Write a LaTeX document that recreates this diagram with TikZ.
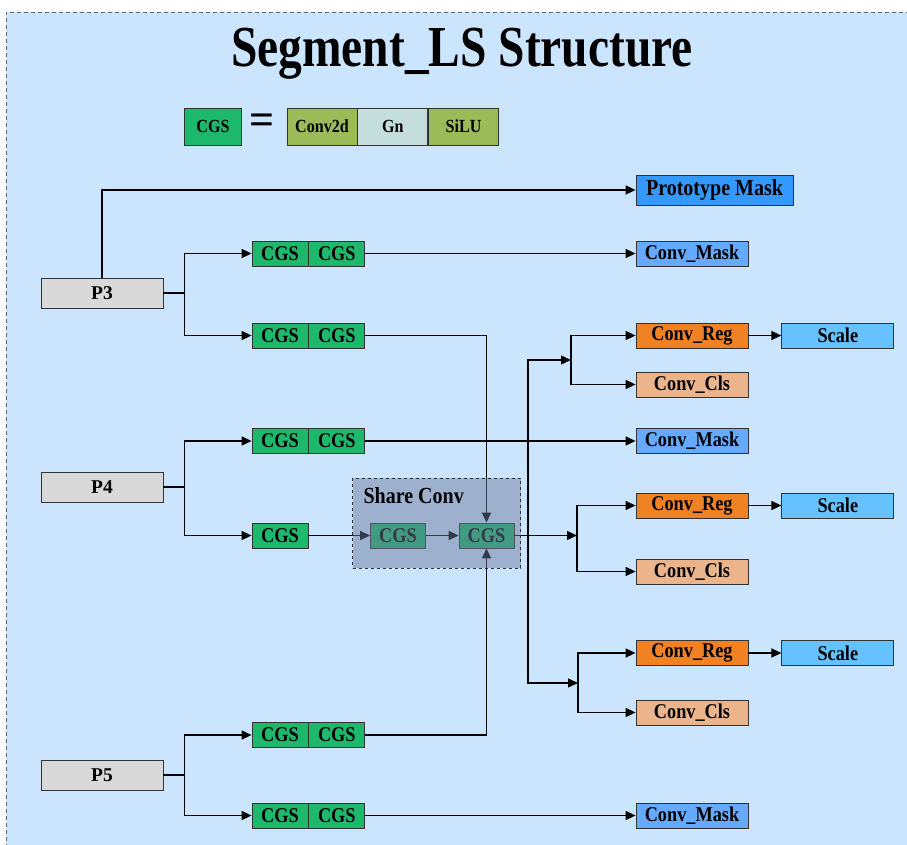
\documentclass[tikz,border=0pt]{standalone}
\usepackage{fontspec}
\setmainfont{Liberation Serif}[FakeStretch=0.87]
\newfontfamily\plainserif{Liberation Serif}
\usepackage{graphicx}
\usetikzlibrary{arrows.meta,positioning}

\definecolor{bgblue}{HTML}{CCE5FF}
\definecolor{cgsgreen}{HTML}{1DB86C}
\definecolor{olivegreen}{HTML}{9BBB59}
\definecolor{gnteal}{HTML}{C4DEDD}
\definecolor{protoblue}{HTML}{3399FF}
\definecolor{maskblue}{HTML}{66AAFF}
\definecolor{regorange}{HTML}{F08224}
\definecolor{clspeach}{HTML}{EBB48A}
\definecolor{scaleblue}{HTML}{66C2FF}
\definecolor{pgray}{HTML}{D9D9D9}
\definecolor{shareshade}{HTML}{6B7A9C}

\begin{document}
\begin{tikzpicture}[
    x=1pt, y=-1pt,
    box/.style={draw=black!80, line width=0.8pt, inner sep=0pt, minimum height=25pt, font=\bfseries\fontsize{21}{22}\selectfont},
    cgs/.style={box, fill=cgsgreen, minimum width=56pt},
    head/.style={box, minimum width=112pt},
    legend/.style={box, minimum width=70pt, minimum height=37pt, font=\bfseries\fontsize{18.5}{20}\selectfont},
    pin/.style={box, fill=pgray, minimum width=122pt, minimum height=30pt, font=\plainserif\bfseries\fontsize{19.5}{21}\selectfont},
    arrow/.style={-{Triangle[length=10pt,width=9pt]}, line width=1.4pt},
    wire/.style={line width=1.4pt}
]
    \useasboundingbox (0,0) rectangle (907,845);
    \fill[bgblue] (6,12) rectangle (915,855);
    \draw[black!60, line width=0.8pt, dash pattern=on 4pt off 3pt] (6,855) -- (6,12) -- (915,12);

    % Title and legend
    \node[anchor=base, font=\bfseries\fontsize{58}{60}\selectfont] (title) at (462,67) {\scalebox{0.94}[1]{Segment\_LS Structure}};
    \node[legend, fill=cgsgreen, minimum width=57pt] (lcgs) at (213,126.5) {CGS};
    \node[font=\plainserif\bfseries\fontsize{44}{44}\selectfont] (eq) at (262,124) {=};
    \node[legend, fill=olivegreen] (conv) at (322,126.5) {Conv2d};
    \node[legend, fill=gnteal, right=0pt of conv] (gn) {Gn};
    \node[legend, fill=olivegreen, right=0pt of gn] (silu) {SiLU};

    % Inputs
    \node[pin] (p3) at (102,293) {P3};
    \node[pin] (p4) at (102,487) {P4};
    \node[pin] (p5) at (102,775) {P5};

    % CGS blocks
    \node[cgs] (p3a1) at (280,253.5) {CGS};
    \node[cgs, right=0pt of p3a1] (p3a2) {CGS};
    \node[cgs] (p3b1) at (280,335.5) {CGS};
    \node[cgs, right=0pt of p3b1] (p3b2) {CGS};
    \node[cgs] (p4a1) at (280,441) {CGS};
    \node[cgs, right=0pt of p4a1] (p4a2) {CGS};
    \node[cgs] (p4b) at (280,535.5) {CGS};
    \node[cgs] (p5a1) at (280,735) {CGS};
    \node[cgs, right=0pt of p5a1] (p5a2) {CGS};
    \node[cgs] (p5b1) at (280,815.5) {CGS};
    \node[cgs, right=0pt of p5b1] (p5b2) {CGS};

    % Share conv
    \node[cgs, minimum width=55pt] (sh1) at (398,535.5) {CGS};
    \node[cgs, minimum width=55pt] (sh2) at (486.5,535.5) {CGS};

    % Heads
    \node[box, fill=protoblue, minimum width=157pt, minimum height=30pt, font=\bfseries\fontsize{23}{24}\selectfont] (proto) at (714.5,190) {Prototype Mask};
    \node[head, fill=maskblue] (mask1) at (692,253.5) {Conv\_Mask};
    \node[head, fill=regorange] (reg1) at (692,335.5) {Conv\_Reg};
    \node[head, fill=clspeach] (cls1) at (692,384.5) {Conv\_Cls};
    \node[head, fill=maskblue] (mask2) at (692,441) {Conv\_Mask};
    \node[head, fill=regorange] (reg2) at (692,505.5) {Conv\_Reg};
    \node[head, fill=clspeach] (cls2) at (692,571.5) {Conv\_Cls};
    \node[head, fill=regorange] (reg3) at (692,653) {Conv\_Reg};
    \node[head, fill=clspeach] (cls3) at (692,712.5) {Conv\_Cls};
    \node[head, fill=maskblue] (mask3) at (692,815.5) {Conv\_Mask};
    \node[head, fill=scaleblue, right=33pt of reg1] (scale1) {Scale};
    \node[head, fill=scaleblue, right=33pt of reg2] (scale2) {Scale};
    \node[head, fill=scaleblue, right=33pt of reg3] (scale3) {Scale};

    % Junctions
    \coordinate[right=21pt of p3.east] (j3);
    \coordinate[right=21pt of p4.east] (j4);
    \coordinate[right=21pt of p5.east] (j5);
    \coordinate (bus) at (528,535.5);
    \coordinate (jt) at (571,360);
    \coordinate (jm) at (577,535.5);
    \coordinate (jb) at (578,683);

    % Arrows
    \draw[arrow] (p3.north) |- (proto.west);
    \draw[wire] (p3.east) -- (j3);
    \draw[arrow] (j3) |- (p3a1.west);
    \draw[arrow] (j3) |- (p3b1.west);
    \draw[wire] (p4.east) -- (j4);
    \draw[arrow] (j4) |- (p4a1.west);
    \draw[arrow] (j4) |- (p4b.west);
    \draw[wire] (p5.east) -- (j5);
    \draw[arrow] (j5) |- (p5a1.west);
    \draw[arrow] (j5) |- (p5b1.west);

    \draw[arrow] (p3a2.east) -- (mask1.west);
    \draw[arrow] (p4a2.east) -- (mask2.west);
    \draw[arrow] (p5b2.east) -- (mask3.west);
    \draw[arrow] (p3b2.east) -| (sh2.north);
    \draw[arrow] (p5a2.east) -| (sh2.south);
    \draw[arrow] (p4b.east) -- (sh1.west);
    \draw[arrow] (sh1.east) -- (sh2.west);

    \draw[arrow] (sh2.east) -- (jm);
    \draw[arrow] (bus) |- (jt);
    \draw[arrow] (bus) |- (jb);
    \draw[arrow] (jt) |- (reg1.west);
    \draw[arrow] (jt) |- (cls1.west);
    \draw[arrow] (jm) |- (reg2.west);
    \draw[arrow] (jm) |- (cls2.west);
    \draw[arrow] (jb) |- (reg3.west);
    \draw[arrow] (jb) |- (cls3.west);
    \draw[arrow] (reg1) -- (scale1);
    \draw[arrow] (reg2) -- (scale2);
    \draw[arrow] (reg3) -- (scale3);

    % Share conv overlay
    \node[draw=black!80, dashed, line width=0.9pt, fill=shareshade, fill opacity=0.48, draw opacity=1, minimum width=168pt, minimum height=90pt, inner sep=0pt] (share) at (436.5,523) {};
    \node[anchor=west, font=\bfseries\fontsize{23}{24}\selectfont] (sharelbl) at (360,496) {Share Conv};
\end{tikzpicture}
\end{document}
